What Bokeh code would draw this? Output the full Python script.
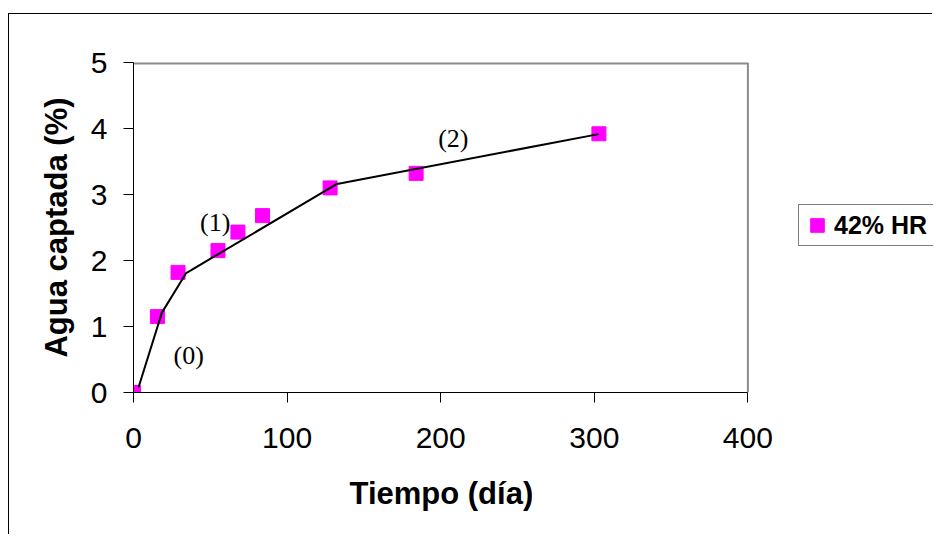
from bokeh.plotting import figure
from bokeh.models import Range1d, FixedTicker, Legend, LegendItem, Title
from bokeh.core.properties import value
from bokeh.embed import file_html
from bokeh.resources import INLINE

# ---- data ----
dias = [0, 15.6, 29, 55, 68, 84, 128, 184, 303]
agua = [0, 1.15, 1.82, 2.15, 2.43, 2.68, 3.10, 3.32, 3.92]
ajuste_x = [3.3, 18.5, 34.3, 132.5, 302.8]
ajuste_y = [0.08, 1.21, 1.81, 3.16, 3.915]
etiquetas = ["(0)", "(1)", "(2)"]
etiq_x = [35.9, 53.2, 208.2]
etiq_y = [0.564, 2.571, 3.845]
x_ticks = [0, 100, 200, 300, 400]
y_ticks = [0, 1, 2, 3, 4, 5]
serie = "42% HR"
x_titulo = "Tiempo (día)"
y_titulo = "Agua captada (%)"

FONT = "Liberation Sans"

# layout: the plotting frame runs to the right edge of the canvas so that the
# legend (outside the axis area) is not clipped; the axis stops at 400.
W, H = 924, 521
LEFT, TOP, BOTTOM = 124, 48, 143
AXIS_PX = 614.4                       # pixel length of the 0..400 axis
frame_w = W - LEFT
x_end = x_ticks[-1] * frame_w / AXIS_PX

p = figure(width=W, height=H,
           x_range=Range1d(0, x_end), y_range=Range1d(y_ticks[0], y_ticks[-1]),
           output_backend="svg", toolbar_location=None,
           min_border_left=LEFT, min_border_right=0,
           min_border_top=TOP, min_border_bottom=BOTTOM)
p.styles = {"margin-top": "13px", "margin-left": "8px",
            "border-top": "1px solid black", "border-left": "1px solid black"}
p.background_fill_color = "white"
p.border_fill_color = "white"
p.outline_line_color = None
p.xgrid.visible = False
p.ygrid.visible = False

for ax in (p.xaxis, p.yaxis):
    ax.axis_line_color = "black"
    ax.axis_line_width = 1
    ax.major_tick_line_color = "black"
    ax.major_tick_out = 10
    ax.major_tick_in = 0
    ax.minor_tick_line_color = None
    ax.major_label_text_font = FONT
    ax.major_label_text_font_size = "30px"
    ax.major_label_text_color = "black"
    ax.axis_label_text_font = FONT
    ax.axis_label_text_font_style = "bold"
    ax.axis_label_text_font_size = "31px"
    ax.axis_label_text_color = "black"

p.xaxis.bounds = (x_ticks[0], x_ticks[-1])
p.xaxis.ticker = FixedTicker(ticks=x_ticks)
p.yaxis.ticker = FixedTicker(ticks=y_ticks)
p.xaxis.major_label_standoff = 25
p.yaxis.major_label_standoff = 16
p.yaxis.axis_label = y_titulo
p.yaxis.axis_label_standoff = 14

# x-axis title centred under the 0..400 axis (not under the whole frame)
p.add_layout(Title(text=x_titulo, align="left", offset=216,
                   standoff=46, text_font=FONT, text_font_size="31px",
                   text_font_style="bold", text_color="black"), "below")

# gray top / right edges of the plot area
p.segment(x0=[x_ticks[0]], y0=[y_ticks[-1]], x1=[x_ticks[-1]], y1=[y_ticks[-1]],
          line_color="#8c8c8c", line_width=4)
p.segment(x0=[x_ticks[-1]], y0=[y_ticks[0]], x1=[x_ticks[-1]], y1=[y_ticks[-1]],
          line_color="#8c8c8c", line_width=2)

r = p.scatter(dias, agua, marker="square", size=14, color="#FF00FF")
p.line(ajuste_x, ajuste_y, line_color="black", line_width=2)

p.text(x=etiq_x, y=etiq_y, text=etiquetas, text_font=value("Liberation Serif"),
       text_font_size="26px", text_align="center", text_baseline="middle",
       text_color="black")

legend = Legend(items=[LegendItem(label=serie, renderers=[r])],
                location=(665, 146), glyph_width=34, glyph_height=38,
                padding=1, label_standoff=0, label_width=120, margin=0, spacing=0,
                label_text_font=FONT, label_text_font_size="25px",
                label_text_font_style="bold", label_text_color="black",
                border_line_color="black", border_line_width=1,
                background_fill_color="white", background_fill_alpha=1)
p.add_layout(legend)

open("out.html", "w").write(file_html(p, INLINE))
